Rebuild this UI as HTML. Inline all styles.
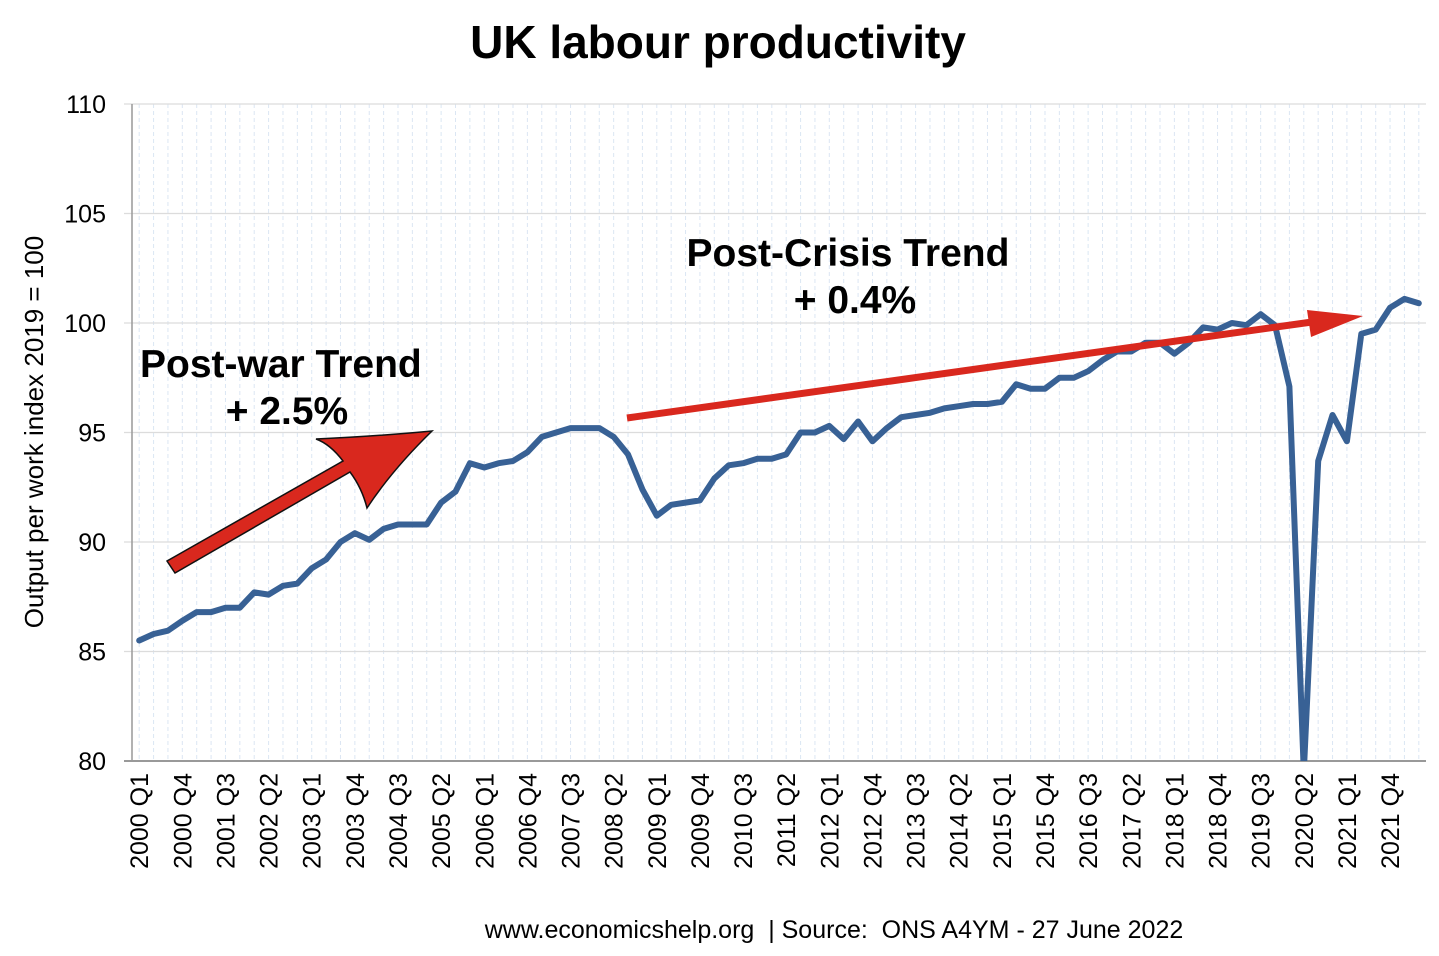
<!DOCTYPE html>
<html><head><meta charset="utf-8"><style>
body{margin:0;background:#fff;}
svg text{font-family:"Liberation Sans",sans-serif;}
</style></head><body>
<svg id="chart" width="1439" height="951" viewBox="0 0 1439 951" xmlns="http://www.w3.org/2000/svg">
<text x="718" y="58" text-anchor="middle" font-size="46" font-weight="bold">UK labour productivity</text>
<text transform="translate(43,432) rotate(-90)" text-anchor="middle" font-size="26">Output per work index 2019 = 100</text>
<g id="grid"></g>
<g id="axes"></g>
<g id="series"></g>
<g>
<path d="M167,561 L343,461 Q330,444 316,439 Q380,436 432,431 Q392,470 367,508 Q362,488 350,472 L175,573 Z" fill="#d9281e" stroke="#111" stroke-width="1.5"/>
<text x="140" y="377" font-size="39" font-weight="bold">Post-war Trend</text>
<text x="287" y="424" text-anchor="middle" font-size="39" font-weight="bold">+ 2.5%</text>
</g>
<g>
<line x1="627" y1="418" x2="1312" y2="322" stroke="#d9281e" stroke-width="7"/>
<polygon points="1307,310 1363,316 1311,337" fill="#d9281e"/>
<text x="848" y="266" text-anchor="middle" font-size="39" font-weight="bold">Post-Crisis Trend</text>
<text x="855" y="313" text-anchor="middle" font-size="39" font-weight="bold">+ 0.4%</text>
</g>
<text x="834" y="938" text-anchor="middle" font-size="25" xml:space="preserve">www.economicshelp.org  | Source:  ONS A4YM - 27 June 2022</text>
</svg>
<script>
const quarterLabels=["Q1","Q2","Q3","Q4"];
const startYear=2000;
const values=[85.5,85.8,85.95,86.4,86.8,86.8,87.0,87.0,87.7,87.6,88.0,88.1,88.8,89.2,90.0,90.4,90.1,90.6,90.8,90.8,90.8,91.8,92.3,93.6,93.4,93.6,93.7,94.1,94.8,95.0,95.2,95.2,95.2,94.8,94.0,92.4,91.2,91.7,91.8,91.9,92.9,93.5,93.6,93.8,93.8,94.0,95.0,95.0,95.3,94.7,95.5,94.6,95.2,95.7,95.8,95.9,96.1,96.2,96.3,96.3,96.4,97.2,97.0,97.0,97.5,97.5,97.8,98.3,98.7,98.7,99.1,99.1,98.6,99.1,99.8,99.7,100.0,99.9,100.4,99.9,97.1,79.5,93.7,95.8,94.6,99.5,99.7,100.7,101.1,100.9];
const yTicks=[80,85,90,95,100,105,110];
const labelEvery=3;
const NS="http://www.w3.org/2000/svg";
const X0=132,X1=1426,Y0=761,Y1=104,ymin=80,ymax=110;
const step=(X1-X0)/values.length;
function xs(i){return X0+step*(i+0.5);}
function ys(v){return Y0-(v-ymin)/(ymax-ymin)*(Y0-Y1);}
function mk(tag,attrs,parent){const e=document.createElementNS(NS,tag);for(const k in attrs)e.setAttribute(k,attrs[k]);parent.appendChild(e);return e;}
const grid=document.getElementById('grid'),axes=document.getElementById('axes'),series=document.getElementById('series');
values.forEach((v,i)=>{
  const l=mk('line',{x1:xs(i),x2:xs(i),y1:Y1,y2:Y0,stroke:'#dbe6f3','stroke-width':1,'stroke-dasharray':'4,3'},grid);
  
  
});
yTicks.forEach(t=>{
  const y=ys(t);
  const g=mk('line',{x1:X0-8,x2:X1,y1:y,y2:y,stroke:t===ymin?'#999':'#dcdcdc','stroke-width':t===ymin?2:1.3},grid);
  
  
  const tx=mk('text',{x:X0-26,y:y+9,'text-anchor':'end','font-size':25},axes);
  tx.textContent=t;
  
  
});
const ax=mk('line',{x1:X0,x2:X0,y1:Y1,y2:Y0,stroke:'#999','stroke-width':1.5},axes);


values.forEach((v,i)=>{
  if(i%labelEvery!==0)return;
  const lab=(startYear+Math.floor(i/4))+' '+quarterLabels[i%4];
  const t=mk('text',{transform:`translate(${xs(i)+9},${Y0+12}) rotate(-90)`,'text-anchor':'end','font-size':25},axes);
  t.textContent=lab;
  
  
});
mk('clipPath',{id:'pc'},series);
const cp=series.querySelector('#pc');
mk('rect',{x:X0,y:Y1-20,width:X1-X0+10,height:Y0-Y1+20},cp);
const pts=values.map((v,i)=>xs(i).toFixed(1)+','+ys(v).toFixed(1)).join(' ');
const pl=mk('polyline',{points:pts,fill:'none',stroke:'#386195','stroke-width':6,'stroke-linejoin':'round','stroke-linecap':'round','clip-path':'url(#pc)'},series);


</script>
</body></html>
